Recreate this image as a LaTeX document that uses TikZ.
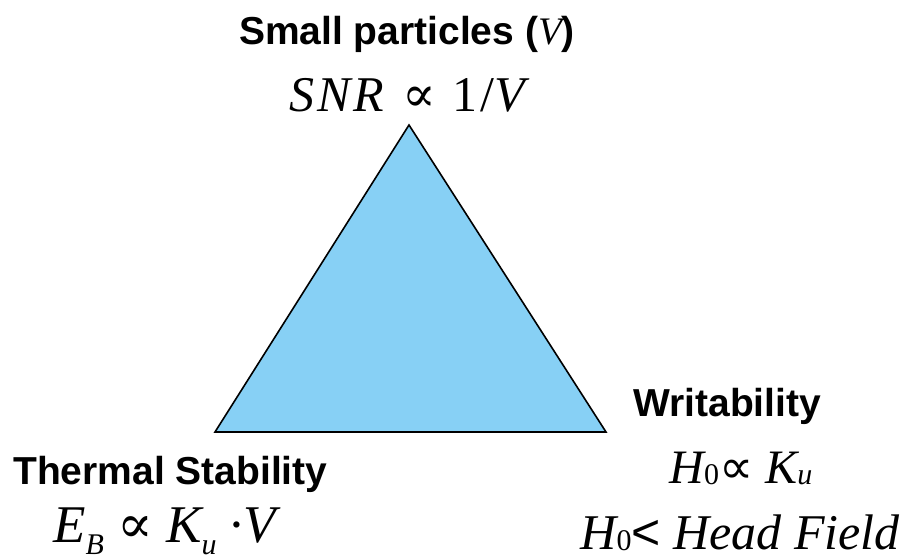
\documentclass[tikz,border=0pt]{standalone}
\usepackage{fontspec}
\setmainfont{Liberation Serif}
\newfontfamily\labelfont{Liberation Sans}
\newfontfamily\snrfont[LetterSpace=6]{Liberation Serif}
\newfontfamily\symfont{DejaVu Serif}
\newfontfamily\symsans{DejaVu Sans}
\usetikzlibrary{positioning}

\definecolor{triblue}{RGB}{135,208,245}

\tikzset{
  heading/.style={font=\labelfont\bfseries\fontsize{39}{44}\selectfont, inner sep=0pt, anchor=base},
  formula/.style={font=\fontsize{50}{56}\selectfont, inner sep=0pt, anchor=base},
}
% kleiner index, tiefgestellt
\newcommand{\lowsub}[2]{\raisebox{#1}{\fontsize{30}{30}\selectfont #2}}

\begin{document}
\begin{tikzpicture}[x=1pt,y=1pt]
  \useasboundingbox (0,0) rectangle (913,556);

  % ---------- dreieck ----------
  \coordinate (apex)  at (409,431);
  \coordinate (left)  at (215,124);
  \coordinate (right) at (606,124);
  \draw[fill=triblue,line width=1.6pt,line join=miter] (apex) -- (left) -- (right) -- cycle;

  % ---------- oben ----------
  \node[formula,font=\snrfont\fontsize{50}{56}\selectfont] (snr) at (411,444)
       {\textit{SNR} {\symfont ∝} 1/\textit{V}};
  \node[heading] (small) at (407,511) {Small particles ({\mdseries\rmfamily\itshape V})};

  % ---------- links unten ----------
  \node[heading,anchor=base west] (thermal) at (13,71) {Thermal Stability};
  \node[formula,anchor=base west,font=\itshape\fontsize{53}{56}\selectfont] (energy) at (53,13)
       {E\lowsub{-12pt}{B} {\upshape\symfont ∝} K\lowsub{-12pt}{u} \textperiodcentered V};

  % ---------- rechts unten ----------
  \node[heading,anchor=base west] (write) at (633,139) {Writability};
  \node[formula,font=\itshape\fontsize{48}{56}\selectfont] (aniso) at (741,72)
       {H\lowsub{-1pt}{\upshape 0}{\upshape\symsans ∝} K\lowsub{-1pt}{u}};
  \node[formula,font=\itshape\fontsize{50}{56}\selectfont] (head) at (740,6)
       {H\lowsub{-1pt}{\upshape 0}{\upshape\labelfont <} Head Field};
\end{tikzpicture}
\end{document}
